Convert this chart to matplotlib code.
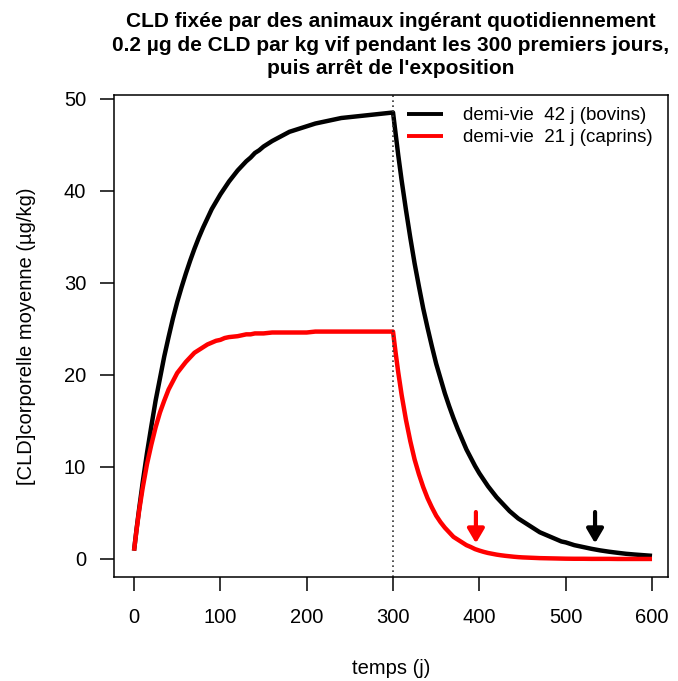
import matplotlib
matplotlib.use("Agg")
import matplotlib.pyplot as plt

plt.rcParams['font.family'] = ['Liberation Sans', 'DejaVu Sans']

# time points (days)
days = ([0, 3, 6, 10, 15, 20, 25, 30, 35, 40, 45, 50, 55, 60, 65, 70, 75, 80, 85, 90, 95,
         100, 105, 110, 115, 120, 125, 130, 135, 140, 145, 150]
        + [160, 170, 180, 190, 200, 210, 220, 230, 240, 250, 260, 270, 280, 290, 300]
        + [303, 306, 310, 315, 320, 325, 330, 335, 340, 345, 350, 355, 360, 365, 370, 375,
           380, 385, 390, 395, 400, 405, 410, 415, 420, 425, 430, 435, 440, 445, 450, 455,
           460, 465, 470, 475, 480, 485, 490, 495, 500]
        + [510, 520, 530, 540, 550, 560, 570, 580, 590, 600])

# half-life 42 d (bovins)
bovins = ([0.9, 3.3, 5.5, 8.3, 11.5, 14.4, 17.2, 19.6, 22.0, 24.1, 26.1, 27.9, 29.5, 31.0,
           32.4, 33.7, 34.9, 36.0, 37.0, 38.0, 38.8, 39.6, 40.3, 41.0, 41.6, 42.2, 42.7, 43.2,
           43.6, 44.1, 44.4, 44.8]
          + [45.4, 45.9, 46.4, 46.7, 47.0, 47.3, 47.5, 47.7, 47.9, 48.0, 48.1, 48.2, 48.3,
             48.4, 48.5]
          + [46.2, 43.9, 41.1, 37.9, 34.9, 32.1, 29.6, 27.2, 25.1, 23.1, 21.2, 19.6, 18.0,
             16.6, 15.3, 14.1, 13.0, 11.9, 11.0, 10.1, 9.3, 8.6, 7.9, 7.3, 6.7, 6.2, 5.7, 5.2,
             4.8, 4.4, 4.1, 3.8, 3.5, 3.2, 2.9, 2.7, 2.5, 2.3, 2.1, 1.9, 1.8]
          + [1.5, 1.3, 1.1, 0.93, 0.79, 0.67, 0.56, 0.48, 0.41, 0.34])

# half-life 21 d (caprins)
caprins = ([0.9, 3.2, 5.3, 7.7, 10.3, 12.4, 14.3, 15.9, 17.2, 18.4, 19.3, 20.2, 20.8, 21.4,
            21.9, 22.4, 22.7, 23.0, 23.3, 23.5, 23.7, 23.8, 24.0, 24.1, 24.15, 24.2, 24.3,
            24.4, 24.4, 24.5, 24.5, 24.5]
           + [24.6, 24.6, 24.6, 24.6, 24.6, 24.7, 24.7, 24.7, 24.7, 24.7, 24.7, 24.7, 24.7,
              24.7, 24.7]
           + [22.4, 20.3, 17.8, 15.1, 12.8, 10.8, 9.2, 7.8, 6.6, 5.6, 4.7, 4.0, 3.4, 2.9, 2.4,
              2.1, 1.8, 1.5, 1.3, 1.07, 0.91, 0.77, 0.65, 0.56, 0.47, 0.40, 0.34, 0.29, 0.24,
              0.20, 0.17, 0.15, 0.13, 0.11, 0.09, 0.08, 0.07, 0.06, 0.05, 0.04, 0.03]
           + [0.02, 0.02, 0.01, 0.01, 0.01, 0.0, 0.0, 0.0, 0.0, 0.0])

labels = ["demi-vie  42 j (bovins)", "demi-vie  21 j (caprins)"]
arrow_x = [396, 534]
arrow_top = 5.1
arrow_bottom = 1.7
stop_day = 300

x_ticks = [0, 100, 200, 300, 400, 500, 600]
y_ticks = [0, 10, 20, 30, 40, 50]

fig = plt.figure(figsize=(6.78, 6.81), dpi=100)
ax = fig.add_axes([114/678, 1-577/681, (668-114)/678, (577-95)/681])

ax.plot(days, bovins, color='black', lw=3.2, solid_capstyle='butt', label=labels[0])
ax.plot(days, caprins, color='red', lw=3.2, solid_capstyle='butt', label=labels[1])
ax.axvline(stop_day, color='#333333', lw=1.2, ls=(0, (1.0, 2.0)))

for xa, col in zip(arrow_x, ['red', 'black']):
    ax.annotate('', xy=(xa, arrow_bottom), xytext=(xa, arrow_top),
                arrowprops=dict(arrowstyle='-|>,head_width=0.5,head_length=0.85',
                                color=col, lw=3.0, shrinkA=0, shrinkB=0))

ax.set_xlim(-23.2, 618.5)
ax.set_ylim(-1.96, 50.4)
ax.set_xticks(x_ticks)
ax.set_yticks(y_ticks)
ax.tick_params(direction='out', length=10, width=1.1, labelsize=14.5)
ax.tick_params(axis='x', pad=12)
ax.tick_params(axis='y', pad=10)
for s in ax.spines.values():
    s.set_linewidth(1.1)

ax.set_xlabel("temps (j)", fontsize=14.5, labelpad=23)
ax.set_ylabel("[CLD]corporelle moyenne (µg/kg)", fontsize=14.5, labelpad=20)

ax.set_title("CLD fixée par des animaux ingérant quotidiennement\n"
             "0.2 µg de CLD par kg vif pendant les 300 premiers jours,\n"
             "puis arrêt de l'exposition", fontsize=15, fontweight='bold',
             linespacing=1.3, pad=15)

leg = ax.legend(loc='upper right', frameon=False, fontsize=13.5, handlelength=1.9,
                handletextpad=1.07, borderaxespad=0.0, labelspacing=0.25,
                bbox_to_anchor=(0.986, 0.99))
for line in leg.get_lines():
    line.set_linewidth(2.8)

fig.savefig("out.png", dpi=100)
